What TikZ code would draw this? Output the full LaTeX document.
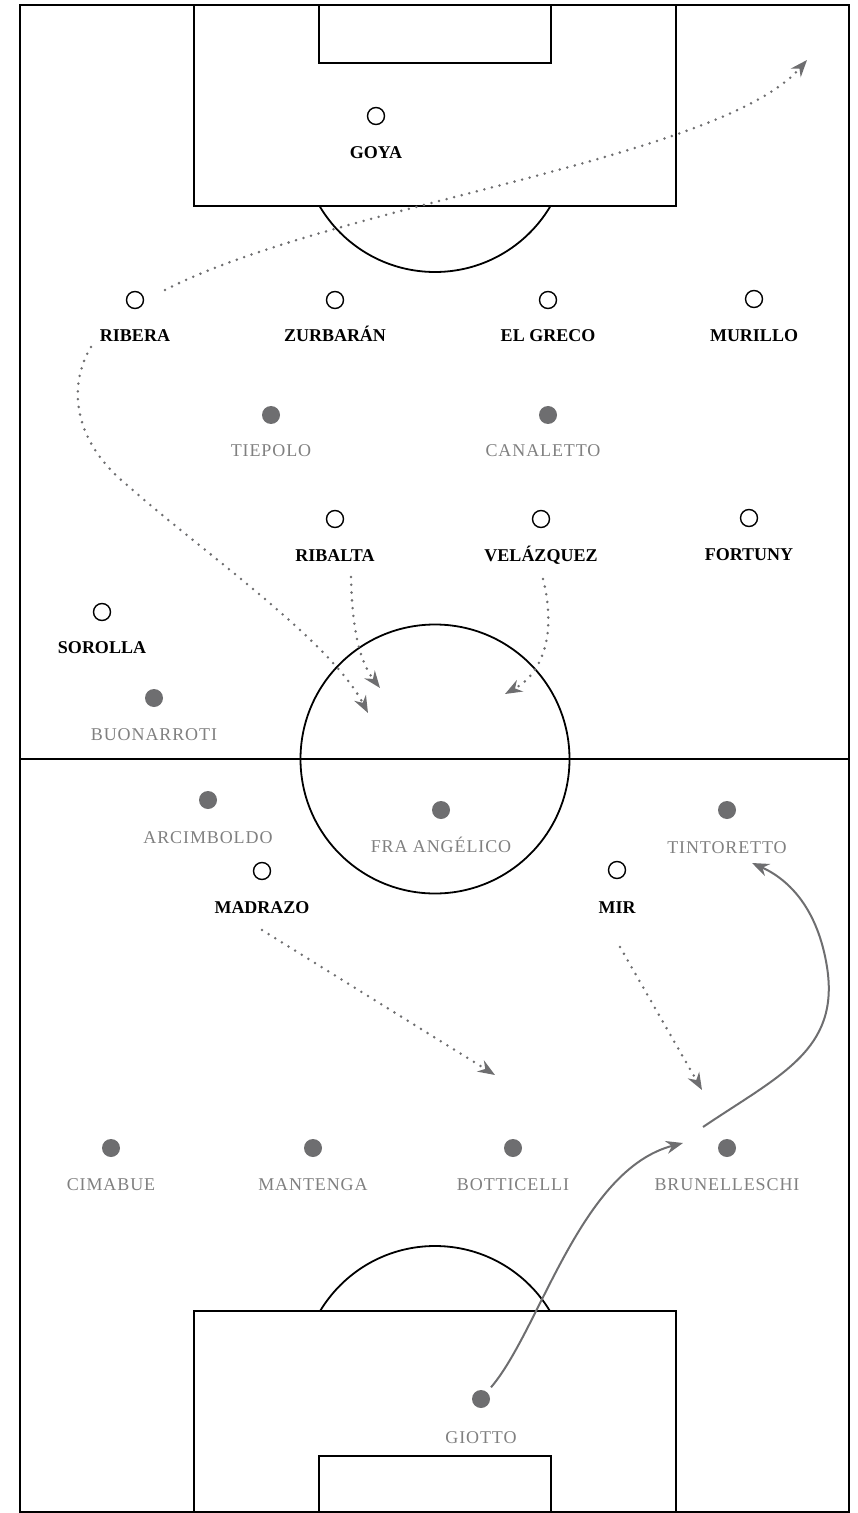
\documentclass[tikz,border=0pt]{standalone}
\usepackage{fontspec}
\setmainfont{Liberation Serif}
\usetikzlibrary{arrows.meta}
\definecolor{Slate}{RGB}{110,110,112}
\definecolor{Ash}  {RGB}{128,128,128}

\begin{document}
\begin{tikzpicture}[x=0.5pt,y=-0.5pt,
    pitch/.style={draw=black,line width=0.9pt},
    ours/.style={circle,draw=black,line width=0.7pt,minimum size=8.5pt,inner sep=0pt},
    theirs/.style={circle,fill=Slate,minimum size=9pt,inner sep=0pt},
    oname/.style={anchor=base,inner sep=0pt,font=\fontsize{9}{10}\selectfont\bfseries},
    tname/.style={anchor=base,inner sep=0pt,text=Ash,font=\fontsize{9}{10}\selectfont\addfontfeature{LetterSpace=5}},
    run/.style={draw=Slate,line width=1.4pt,dash pattern=on 0pt off 3.9pt,line cap=round,-{Stealth[length=8.5pt,width=6.5pt]}},
    pass/.style={draw=Slate,line width=1pt,-{Stealth[length=8.5pt,width=6.5pt]}}]
        \useasboundingbox (0,0) rectangle (857,1513);
        \draw[pitch] (20,5) rectangle (849,1512);
        \draw[pitch] (20,759) -- (849,759);
        \draw[pitch] (435,759) circle[radius=134.5];
        \draw[pitch] (194,5) rectangle (676,206);
        \draw[pitch] (319,5) rectangle (551,63);
        \draw[pitch] (194,1311) rectangle (676,1512);
        \draw[pitch] (319,1456) rectangle (551,1512);
        \begin{scope}
          \clip (20,206) rectangle (849,400);
          \draw[pitch] (435,138) circle[radius=134];
        \end{scope}
        \begin{scope}
          \clip (20,1311) rectangle (849,1150);
          \draw[pitch] (435,1380) circle[radius=134];
        \end{scope}

        \node[ours] (goya) at (376,116) {};
        \node[oname] (goya-l) at (376,159) {GOYA};
        \node[ours] (ribera) at (135,300) {};
        \node[oname] (ribera-l) at (135,342) {RIBERA};
        \node[ours] (zurbaran) at (335,300) {};
        \node[oname] (zurbaran-l) at (335,342) {ZURBARÁN};
        \node[ours] (elgreco) at (548,300) {};
        \node[oname] (elgreco-l) at (548,342) {EL GRECO};
        \node[ours] (murillo) at (754,299) {};
        \node[oname] (murillo-l) at (754,342) {MURILLO};
        \node[theirs] (tiepolo) at (271,415) {};
        \node[tname] (tiepolo-l) at (271,457) {TIEPOLO};
        \node[theirs] (canaletto) at (548,415) {};
        \node[tname] (canaletto-l) at (543,457) {CANALETTO};
        \node[ours] (ribalta) at (335,519) {};
        \node[oname] (ribalta-l) at (335,561) {RIBALTA};
        \node[ours] (velazquez) at (541,519) {};
        \node[oname] (velazquez-l) at (541,561) {VELÁZQUEZ};
        \node[ours] (fortuny) at (749,518) {};
        \node[oname] (fortuny-l) at (749,560) {FORTUNY};
        \node[ours] (sorolla) at (102,612) {};
        \node[oname] (sorolla-l) at (102,653) {SOROLLA};
        \node[theirs] (buonarroti) at (154,698) {};
        \node[tname] (buonarroti-l) at (154,740) {BUONARROTI};
        \node[theirs] (arcimboldo) at (208,800) {};
        \node[tname] (arcimboldo-l) at (208,843) {ARCIMBOLDO};
        \node[theirs] (angelico) at (441,810) {};
        \node[tname] (angelico-l) at (441,852) {FRA ANGÉLICO};
        \node[theirs] (tintoretto) at (727,810) {};
        \node[tname] (tintoretto-l) at (727,853) {TINTORETTO};
        \node[ours] (madrazo) at (262,871) {};
        \node[oname] (madrazo-l) at (262,913) {MADRAZO};
        \node[ours] (mir) at (617,870) {};
        \node[oname] (mir-l) at (617,913) {MIR};
        \node[theirs] (cimabue) at (111,1148) {};
        \node[tname] (cimabue-l) at (111,1190) {CIMABUE};
        \node[theirs] (mantenga) at (313,1148) {};
        \node[tname] (mantenga-l) at (313,1190) {MANTENGA};
        \node[theirs] (botticelli) at (513,1148) {};
        \node[tname] (botticelli-l) at (513,1190) {BOTTICELLI};
        \node[theirs] (brunelleschi) at (727,1148) {};
        \node[tname] (brunelleschi-l) at (727,1190) {BRUNELLESCHI};
        \node[theirs] (giotto) at (481,1399) {};
        \node[tname] (giotto-l) at (481,1443) {GIOTTO};

        \coordinate (ribera-go) at (165,290);
        \coordinate (ribera-to) at (807,60);
        \coordinate (ribera-back) at (91,347);
        \coordinate (ribera-in) at (368,713);
        \coordinate (ribalta-go) at (351,577);
        \coordinate (ribalta-to) at (380,688);
        \coordinate (velazquez-go) at (543,579);
        \coordinate (velazquez-to) at (505,694);
        \coordinate (madrazo-go) at (262,930);
        \coordinate (madrazo-to) at (495,1075);
        \coordinate (mir-go) at (620,947);
        \coordinate (mir-to) at (702,1090);
        \coordinate (giotto-to) at (683,1143);
        \coordinate (brunelleschi-go) at (703,1127);
        \coordinate (tintoretto-to) at (752,863);

        \draw[run] (ribera-go) .. controls (330,205) and (720,160) .. (ribera-to);
        \draw[run] (ribera-back) .. controls (68,385) and (72,440) .. (127,485)
                   .. controls (200,550) and (330,640) .. (ribera-in);
        \draw[run] (ribalta-go) .. controls (352,630) and (360,662) .. (ribalta-to);
        \draw[run] (velazquez-go) .. controls (556,630) and (545,672) .. (velazquez-to);
        \draw[run] (madrazo-go) -- (madrazo-to);
        \draw[run] (mir-go) -- (mir-to);
        \draw[pass,shorten <=3pt] (giotto) .. controls (540,1330) and (580,1170) .. (giotto-to);
        \draw[pass] (brunelleschi-go) .. controls (780,1075) and (840,1050) .. (827,967)
                    .. controls (818,910) and (790,880) .. (tintoretto-to);
      \end{tikzpicture}
\end{document}
